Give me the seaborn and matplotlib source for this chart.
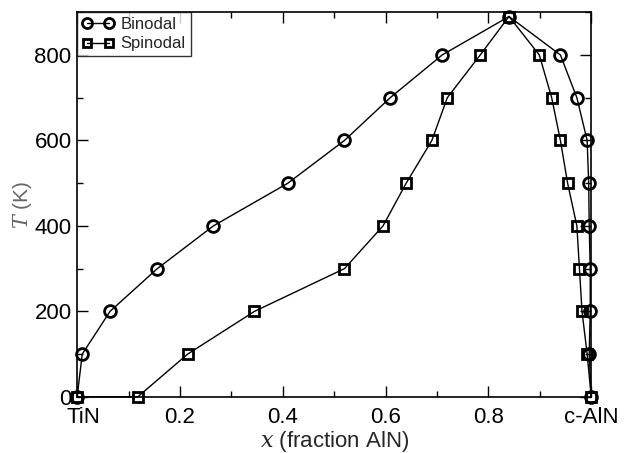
import matplotlib
matplotlib.use("Agg")
import matplotlib.pyplot as plt
import matplotlib.transforms as mtransforms
import seaborn as sns
import pandas as pd
from matplotlib.ticker import MultipleLocator, FixedLocator

bin_x = [0.0, 0.01, 0.064, 0.156, 0.265, 0.41, 0.52, 0.609, 0.71, 0.84,
         0.94, 0.972, 0.992, 0.995, 0.996, 0.998, 0.998, 0.996, 1.0]
bin_T = [0, 100, 200, 300, 400, 500, 600, 700, 800, 890,
         800, 700, 600, 500, 400, 300, 200, 100, 0]
spi_x = [0.0, 0.118, 0.215, 0.345, 0.52, 0.595, 0.64, 0.69, 0.72, 0.784, 0.84,
         0.899, 0.923, 0.940, 0.954, 0.972, 0.977, 0.982, 0.992, 1.0]
spi_T = [0, 0, 100, 200, 300, 400, 500, 600, 700, 800, 890,
         800, 700, 600, 500, 400, 300, 200, 100, 0]
xtick_vals = [0.0, 0.2, 0.4, 0.6, 0.8, 1.0]
xtick_labels = ["TiN", "0.2", "0.4", "0.6", "0.8", "c-AlN"]
ytick_vals = [0, 200, 400, 600, 800]

sns.set_theme(style="ticks")
plt.rcParams['font.family'] = ['Liberation Sans', 'DejaVu Sans']
plt.rcParams['mathtext.fontset'] = 'dejavuserif'

fig = plt.figure(figsize=(6.27, 4.53), dpi=100)
ax = fig.add_axes([0.123, 0.124, 0.820, 0.849])

df_b = pd.DataFrame({"x": bin_x, "T": bin_T})
df_s = pd.DataFrame({"x": spi_x, "T": spi_T})

sns.lineplot(data=df_b, x="x", y="T", sort=False, estimator=None, ax=ax,
             color="black", lw=1.0, marker="o", markersize=8.5,
             markerfacecolor="none", markeredgecolor="black",
             markeredgewidth=2, label="Binodal", clip_on=False, zorder=3)
sns.lineplot(data=df_s, x="x", y="T", sort=False, estimator=None, ax=ax,
             color="black", lw=1.0, marker="s", markersize=7,
             markerfacecolor="none", markeredgecolor="black",
             markeredgewidth=2, label="Spinodal", clip_on=False, zorder=3)

ax.set_xlim(0, 1)
ax.set_ylim(0, 900)
ax.xaxis.set_major_locator(FixedLocator(xtick_vals))
ax.set_xticklabels(xtick_labels)
ax.xaxis.set_minor_locator(MultipleLocator(0.1))
ax.yaxis.set_major_locator(FixedLocator(ytick_vals))
ax.yaxis.set_minor_locator(MultipleLocator(100))
ax.tick_params(which="both", direction="in", top=True, right=True, labelsize=16,
               colors="black")
ax.tick_params(which="major", length=8, width=1)
ax.tick_params(which="minor", length=4, width=1)
ax.tick_params(axis="x", pad=7)
ax.tick_params(axis="y", pad=4)
for s in ax.spines.values():
    s.set_linewidth(1.2)
    s.set_color("black")

# nudge the "TiN" label right so it clears the y-axis "0"
shift = mtransforms.ScaledTranslation(6 / 100, 0, fig.dpi_scale_trans)
first = ax.get_xticklabels()[0]
first.set_transform(first.get_transform() + shift)

ax.set_xlabel("$x$ (fraction AlN)", fontsize=16, labelpad=1)
ax.set_ylabel("$T$ (K)", fontsize=15, color="#666666", labelpad=0)

leg = ax.legend(loc="upper left", numpoints=2, fontsize=12, frameon=True,
                fancybox=False, borderaxespad=0, handlelength=1.9,
                handletextpad=0.4, borderpad=0.3, labelspacing=0.25,
                markerscale=0.85)
leg.get_frame().set_edgecolor("black")
leg.get_frame().set_linewidth(1.0)
leg.set_zorder(5)

fig.savefig("out.png", dpi=100)
